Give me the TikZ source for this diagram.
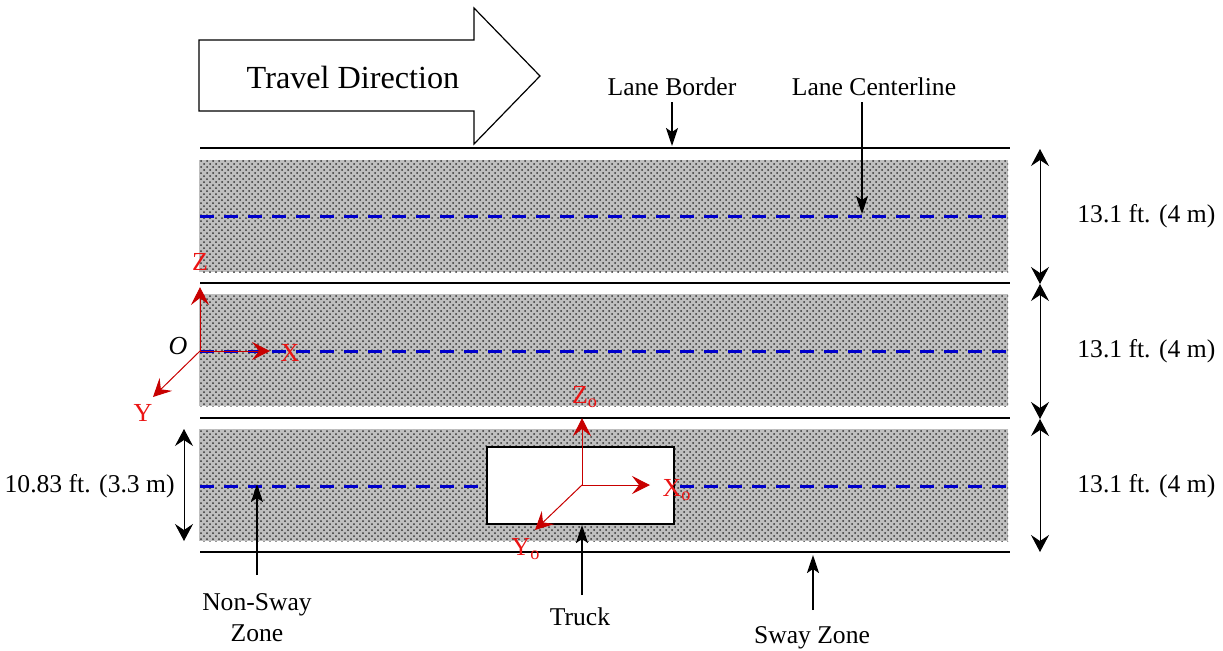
\documentclass[tikz,border=0pt]{standalone}
\usepackage{fontspec}
\setmainfont{Liberation Serif}
\usetikzlibrary{arrows.meta,patterns}
\definecolor{lblue}{RGB}{0,0,204}
\definecolor{axred}{RGB}{200,0,0}
\definecolor{txtred}{RGB}{235,20,20}
\begin{document}
\begin{tikzpicture}[x=0.5pt,y=-0.5pt,
  lbl/.style={font=\fontsize{12.8}{15.5}\selectfont, inner sep=0pt},
  axlbl/.style={font=\fontsize{13}{15}\selectfont, text=txtred, inner sep=0pt},
  lanefill/.style={fill=gray!50},
  lanedots/.style={pattern=crosshatch dots, pattern color=black!80},
  border/.style={line width=1pt, black},
  center/.style={line width=1.5pt, lblue, dash pattern=on 7pt off 5pt},
  ptr/.style={line width=1pt, -{Stealth[length=9pt,width=6pt,inset=2pt]}},
  dim/.style={line width=0.5pt, {Stealth[length=8.5pt,width=9pt,inset=3pt]}-{Stealth[length=8.5pt,width=9pt,inset=3pt]}},
  ax/.style={line width=0.5pt, axred, -{Stealth[length=9pt,width=9pt,inset=3.5pt]}}]
\useasboundingbox (0,0) rectangle (1223,650);

% travel direction arrow
\draw[line width=0.6pt, fill=white] (199,40) -- (474,40) -- (474,8) -- (540,76) -- (474,144) -- (474,111) -- (199,111) -- cycle;
\node[font=\fontsize{16.1}{19}\selectfont, inner sep=0pt] (travel) at (353,77) {Travel Direction};

% lanes (shaded)
\foreach \t/\b in {160/272, 294/406, 429/541}{
  \fill[lanefill] (199,\t) rectangle (1008,\b);
  \fill[lanedots] (199,\t) rectangle (1008,\b);
}
% lane borders
\foreach \y in {148,283,418,552}{
  \draw[border] (200,\y) -- (1010,\y);
}
% centerlines
\foreach \y in {216,351,486}{
  \draw[center] (200,\y) -- (1010,\y);
}

% truck
\node[draw, line width=1pt, fill=white, minimum width=93.5pt, minimum height=38.5pt, inner sep=0pt] (truck) at (580.5,485.5) {};

% global frame
\coordinate (O) at (200,351);
\coordinate (Zt) at (200,287);
\coordinate (Xt) at (270,351);
\coordinate (Yt) at (153,397);
\draw[ax] (O) -- (Zt);
\draw[ax] (O) -- (Xt);
\draw[ax] (O) -- (Yt);
\node[font=\fontsize{13}{15}\selectfont\itshape, inner sep=0pt] (olbl) at (178,346) {O};
\node[axlbl] (zlbl) at (200,262) {Z};
\node[axlbl] (xlbl) at (290,353) {X};
\node[axlbl] (ylbl) at (143,413) {Y};

% truck frame
\coordinate (Oo) at (582,485);
\coordinate (Zo) at (582,418);
\coordinate (Xo) at (650,485);
\coordinate (Yo) at (535,530);
\draw[ax] (Oo) -- (Zo);
\draw[ax] (Oo) -- (Xo);
\draw[ax] (Oo) -- (Yo);
\node[axlbl] (zolbl) at (585,397) {Z\textsubscript{o}};
\node[axlbl] (xolbl) at (677,490) {X\textsubscript{o}};
\node[axlbl] (yolbl) at (526,549) {Y\textsubscript{o}};

% labels with pointers
\node[lbl] (lb) at (672,87) {Lane Border};
\coordinate (lbtip) at (672,146);
\draw[ptr] (672,102) -- (lbtip);
\node[lbl] (lc) at (874,87) {Lane Centerline};
\coordinate (lctip) at (862,214);
\draw[ptr] (862,102) -- (lctip);

\node[lbl, align=center] (nsz) at (257,618) {Non-Sway\\Zone};
\coordinate (nstail) at (257,575);
\coordinate (nstip) at (257,484);
\draw[ptr] (nstail) -- (nstip);

\node[lbl] (trk) at (580,617) {Truck};
\coordinate (trtail) at (582,595);
\draw[ptr] (trtail) -- (truck.south -| trtail);

\node[lbl] (sz) at (812,638) {Sway Zone};
\coordinate (sztail) at (813,610);
\coordinate (sztip) at (813,555);
\draw[ptr] (sztail) -- (sztip);

% dimensions right
\coordinate (d0) at (1040,149);
\coordinate (d1) at (1040,284);
\coordinate (d2) at (1040,419);
\coordinate (d3) at (1040,552);
\draw[dim] (d0) -- (d1);
\draw[dim] (d1) -- (d2);
\draw[dim] (d2) -- (d3);
\node[lbl, anchor=west] (w1) at (1077,216) {13.1 ft. (4 m)};
\node[lbl, anchor=west] (w2) at (1077,351) {13.1 ft. (4 m)};
\node[lbl, anchor=west] (w3) at (1077,486) {13.1 ft. (4 m)};

% dimension left
\coordinate (e0) at (184,429);
\coordinate (e1) at (184,541);
\draw[dim] (e0) -- (e1);
\node[lbl, anchor=east] (nw) at (175,486) {10.83 ft. (3.3 m)};
\end{tikzpicture}
\end{document}
